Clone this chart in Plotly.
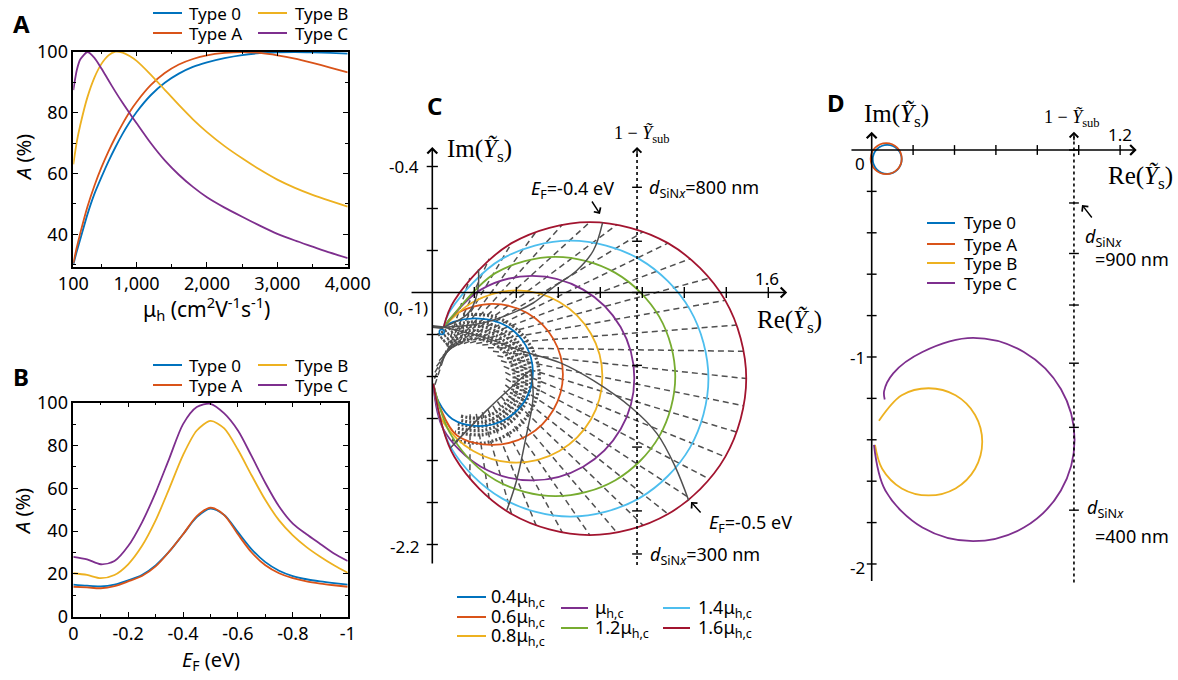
import plotly.graph_objects as go

W, H = 1178, 680

# ---------------- Panel A data ----------------
A_MU = [100, 150, 200, 300, 400, 500, 600, 700, 800, 900, 1000, 1200, 1400, 1600, 1800, 2000,
        2250, 2500, 2750, 3000, 3250, 3500, 3750, 4000]
A_TYPE0 = [30, 34.5, 38.5, 46.5, 53.3, 58.8, 64, 68.7, 73, 76.8, 80.2, 85.7, 89.8, 92.8, 95, 96.5,
           97.9, 98.9, 99.5, 99.8, 99.9, 99.8, 99.6, 99.4]
A_TYPEA = [30.5, 35.8, 40.5, 49, 56, 62, 67.3, 72, 76.3, 80.2, 83.5, 89, 93, 95.8, 97.6, 98.8,
           99.6, 99.9, 99.6, 98.8, 97.7, 96.3, 94.8, 93.2]
A_TYPEB = [63, 70.5, 76, 85, 91.5, 96, 98.8, 100, 99.7, 98.6, 97, 92.5, 87.5, 82.5, 77.8, 73.6,
           69, 65, 61.3, 58, 55.3, 53, 51, 49.1]
A_TYPEC = [87.4, 94, 97.5, 99.9, 98, 94.5, 90.6, 86.8, 83.2, 79.8, 76.5, 70, 64.3, 59.6, 55.6, 52.2,
           48.8, 45.8, 42.9, 40.2, 38, 36, 34, 32.2]
A_XTICKS = [100, 1000, 2000, 3000, 4000]
A_XTICKTEXT = ["100", "1,000", "2,000", "3,000", "4,000"]

# ---------------- Panel B data ----------------
B_EF = [0, -0.05, -0.1, -0.15, -0.2, -0.25, -0.3, -0.35, -0.4, -0.45, -0.5,
        -0.55, -0.6, -0.65, -0.7, -0.75, -0.8, -0.85, -0.9, -0.95, -1.0]
B_TYPE0 = [15, 14.5, 14.2, 15, 17, 19.5, 24, 30.5, 38.5, 46.5, 50.5,
           47.5, 39.5, 31.5, 25.5, 21.5, 19, 17.5, 16.5, 15.7, 15]
B_TYPEA = [14, 13.7, 13.3, 14.3, 16.5, 19, 23.5, 30.5, 38.5, 47, 51,
           47.5, 38.5, 30, 24, 20.3, 18, 16.5, 15.5, 14.7, 14]
B_TYPEB = [20.3, 19.5, 18, 19.5, 24.5, 33, 45, 60, 75.5, 87, 91.5,
           88, 78, 66, 54.5, 45, 38, 32.5, 28, 24, 20.5]
B_TYPEC = [28, 26.8, 24.5, 26, 33, 44, 58, 74, 90, 98, 99.5,
           95, 87, 75, 62.5, 51.5, 43.5, 38.5, 34, 29.5, 26]
B_XTICKS = [0, -0.2, -0.4, -0.6, -0.8, -1.0]
B_XTICKTEXT = ["0", "-0.2", "-0.4", "-0.6", "-0.8", "-1"]

# ---------------- Panel C data (Re, Im of admittance) ----------------
C_04_RE = [0.054, 0.10, 0.223, 0.351, 0.445, 0.479, 0.445, 0.351, 0.223, 0.095, 0.03, 0.005]
C_04_IM = [-1.165, -1.14, -1.124, -1.158, -1.252, -1.38, -1.508, -1.602, -1.636, -1.602, -1.52, -1.435]
C_06_RE = [0.054, 0.118, 0.286, 0.454, 0.577, 0.622, 0.577, 0.454, 0.286, 0.118, 0.037, 0.005]
C_06_IM = [-1.165, -1.099, -1.054, -1.099, -1.222, -1.39, -1.558, -1.681, -1.726, -1.681, -1.548, -1.435]
C_08_RE = [0.054, 0.195, 0.40, 0.605, 0.755, 0.81, 0.755, 0.605, 0.40, 0.195, 0.045, 0.005]
C_08_IM = [-1.165, -1.045, -0.99, -1.045, -1.195, -1.40, -1.605, -1.755, -1.81, -1.755, -1.605, -1.435]
C_10_RE = [0.054, 0.2315, 0.475, 0.7185, 0.8967, 0.962, 0.8967, 0.7185, 0.475, 0.2315, 0.0533, 0.005]
C_10_IM = [-1.165, -0.9863, -0.921, -0.9863, -1.1645, -1.408, -1.6515, -1.8297, -1.895, -1.8297, -1.6515, -1.435]
C_12_RE = [0.054, 0.0934, 0.302, 0.587, 0.872, 1.0806, 1.157, 1.0806, 0.872, 0.587, 0.302, 0.0934, 0.005]
C_12_IM = [-1.165, -1.115, -0.9064, -0.83, -0.9064, -1.115, -1.40, -1.685, -1.8936, -1.97, -1.8936, -1.685, -1.435]
C_14_RE = [0.054, 0.089, 0.3295, 0.658, 0.9865, 1.227, 1.315, 1.227, 0.9865, 0.658, 0.3295, 0.089, 0.005]
C_14_IM = [-1.165, -1.0815, -0.841, -0.753, -0.841, -1.0815, -1.41, -1.7385, -1.979, -2.067, -1.979, -1.7385, -1.435]
C_16_RE = [0.054, 0.105, 0.3775, 0.75, 1.1225, 1.395, 1.495, 1.395, 1.1225, 0.75, 0.3775, 0.105, 0.005]
C_16_IM = [-1.165, -1.0375, -0.765, -0.665, -0.765, -1.0375, -1.41, -1.7825, -2.055, -2.155, -2.055, -1.7825, -1.435]
C_LABELS = ["0.4μ<sub>h,c</sub>", "0.6μ<sub>h,c</sub>", "0.8μ<sub>h,c</sub>", "μ<sub>h,c</sub>",
            "1.2μ<sub>h,c</sub>", "1.4μ<sub>h,c</sub>", "1.6μ<sub>h,c</sub>"]

# constant-thickness (dashed) curves: inner and outer ends
DASH_IN_RE = [0.0125, 0.01, 0.0126, 0.02, 0.033, 0.05, 0.071, 0.095, 0.122, 0.1504, 0.18, 0.2096, 0.238,
              0.265, 0.289, 0.31, 0.327, 0.34, 0.3475, 0.35, 0.3475, 0.34, 0.327, 0.31, 0.289, 0.265,
              0.238, 0.2096, 0.18]
DASH_IN_IM = [-1.4396, -1.41, -1.3804, -1.352, -1.325, -1.301, -1.28, -1.263, -1.25, -1.2425, -1.24,
              -1.2425, -1.25, -1.263, -1.28, -1.301, -1.325, -1.352, -1.3804, -1.41, -1.4396, -1.468,
              -1.495, -1.519, -1.54, -1.557, -1.57, -1.5775, -1.58]
DASH_OUT_RE = [0.179, 0.271, 0.3775, 0.495, 0.62, 0.75, 0.88, 1.005, 1.1225, 1.229, 1.321, 1.395, 1.45,
               1.484, 1.495, 1.484, 1.45, 1.395, 1.321, 1.229, 1.1225, 1.005, 0.88, 0.75, 0.62, 0.495,
               0.3775, 0.271, 0.179]
DASH_OUT_IM = [-0.931, -0.839, -0.765, -0.71, -0.676, -0.665, -0.676, -0.71, -0.765, -0.839, -0.931,
               -1.0375, -1.155, -1.28, -1.41, -1.54, -1.665, -1.7825, -1.889, -1.981, -2.055, -2.11,
               -2.144, -2.155, -2.144, -2.11, -2.055, -1.981, -1.889]
# dense dashed bands around the low-mobility hole
BAND1_RE = [0.078, 0.167, 0.265, 0.3455, 0.387, 0.3786, 0.322, 0.233, 0.135]
BAND1_IM = [-1.2645, -1.223, -1.2314, -1.288, -1.377, -1.475, -1.5555, -1.597, -1.5886]
BAND2_RE = [0.065, 0.1635, 0.2718, 0.3609, 0.4069, 0.3974, 0.335, 0.2365, 0.1282]
BAND2_IM = [-1.2491, -1.2031, -1.2126, -1.275, -1.3735, -1.4818, -1.5709, -1.6169, -1.6074]
BAND3_RE = [0.052, 0.16, 0.2787, 0.376, 0.4266, 0.4162, 0.348, 0.24, 0.1213]
BAND3_IM = [-1.234, -1.1834, -1.1938, -1.262, -1.37, -1.4887, -1.586, -1.6366, -1.6262]
BAND4_RE = [0.0392, 0.1565, 0.2855, 0.3915, 0.4463, 0.435, 0.3608, 0.2435, 0.1145]
BAND4_IM = [-1.2185, -1.1637, -1.175, -1.2493, -1.3665, -1.4955, -1.6015, -1.6563, -1.645]
BAND5_RE = [0.0264, 0.153, 0.2923, 0.4068, 0.466, 0.4538, 0.3736, 0.247, 0.1077]
BAND5_IM = [-1.2032, -1.144, -1.1562, -1.2364, -1.363, -1.5023, -1.6168, -1.676, -1.6638]
BAND6_RE = [0.146, 0.306, 0.4375, 0.5054, 0.4914, 0.3993, 0.254, 0.094]
BAND6_IM = [-1.1046, -1.1186, -1.2107, -1.356, -1.516, -1.6475, -1.7154, -1.7014]
# constant-EF (solid grey) curves
EF04_RE = [0.054, 0.228, 0.40, 0.48, 0.577, 0.688, 0.767, 0.811]
EF04_IM = [-1.165, -1.148, -1.09, -1.05, -0.975, -0.895, -0.80, -0.667]
EF05_RE = [0.054, 0.25, 0.418, 0.61, 0.768, 0.95, 1.07, 1.157, 1.221]
EF05_IM = [-1.165, -1.215, -1.276, -1.335, -1.42, -1.55, -1.672, -1.83, -1.99]
EFX1_RE = [0.086, 0.26, 0.40, 0.466]
EFX1_IM = [-1.74, -1.56, -1.43, -1.37]
EFX2_RE = [0.355, 0.40, 0.45, 0.48, 0.47]
EFX2_IM = [-2.036, -1.90, -1.67, -1.50, -1.37]
EFX3_RE = [0.22, 0.215, 0.17, 0.054]
EFX3_IM = [-0.89, -1.0, -1.10, -1.165]
STUB_RE = [0.0, 0.054]
STUB_IM = [-1.162, -1.168]
C_SUB_RE = 0.975
C_SUB_TICKS = [-0.499, -0.756, -1.0, -1.347, -1.736, -2.04, -2.245]
C_IM_TICKS = [-0.4, -0.6, -0.8, -1.2, -1.4, -1.6, -1.8, -2.0, -2.2]
C_RE_TICKS = [0.2, 0.4, 0.6, 0.8, 1.0, 1.2, 1.4, 1.6]

# ---------------- Panel D data ----------------
D_T0_RE = [0.145, 0.1245, 0.075, 0.0255, 0.005, 0.0255, 0.075, 0.1245, 0.145]
D_T0_IM = [-0.045, 0.0045, 0.025, 0.0045, -0.045, -0.0945, -0.115, -0.0945, -0.045]
D_TA_RE = [0.145, 0.123, 0.07, 0.017, -0.005, 0.017, 0.07, 0.123, 0.145]
D_TA_IM = [-0.042, 0.011, 0.033, 0.011, -0.042, -0.095, -0.117, -0.095, -0.042]
D_TB_RE = [0.035, 0.145, 0.275, 0.405, 0.4995, 0.534, 0.4995, 0.405, 0.275, 0.145, 0.0505, 0.016]
D_TB_IM = [-1.308, -1.185, -1.151, -1.185, -1.28, -1.41, -1.54, -1.635, -1.669, -1.635, -1.54, -1.425]
D_TC_RE = [0.063, 0.06, 0.104, 0.245, 0.49, 0.735, 0.914, 0.98, 0.914, 0.735, 0.49, 0.245, 0.066, 0.011]
D_TC_IM = [-1.205, -1.165, -1.079, -0.976, -0.908, -0.976, -1.155, -1.40, -1.645, -1.824, -1.89, -1.824, -1.645, -1.425]
D_SUB_RE = 0.977
D_SUB_TICKS = [0.0, -0.256, -0.50, -0.749, -1.03, -1.34, -1.74]
D_IM_TICKS = [-0.2, -0.4, -0.6, -0.8, -1.0, -1.2, -1.4, -1.6, -1.8, -2.0]
D_RE_TICKS = [0.2, 0.4, 0.6, 0.8, 1.0, 1.2]

TYPE_NAMES = ["Type 0", "Type A", "Type B", "Type C"]
BLUE, ORANGE, YELLOW, PURPLE = "#0072BD", "#D95319", "#EDB120", "#7E2F8E"
GREEN, CYAN, RED = "#77AC30", "#4DBEEE", "#A2142F"
GREY = "#505050"
SANS = "Noto Sans"
SERIF = "Liberation Serif, DejaVu Serif, serif"


def PX(x):
    return x / W


def PY(y):
    return 1 - y / H


fig = go.Figure()


def line(x, y, color, xa, ya, width=1.8, dash=None, spline=True, smoothing=1.0):
    fig.add_trace(go.Scatter(
        x=x, y=y, mode="lines",
        line=dict(color=color, width=width, dash=dash,
                  shape="spline" if spline else "linear", smoothing=smoothing),
        xaxis=xa, yaxis=ya, showlegend=False, hoverinfo="skip"))


# Panel A
for ys, col in zip([A_TYPE0, A_TYPEA, A_TYPEB, A_TYPEC], [BLUE, ORANGE, YELLOW, PURPLE]):
    line(A_MU, ys, col, "x", "y", width=1.8, smoothing=0.6)
# Panel B
for ys, col in zip([B_TYPE0, B_TYPEA, B_TYPEB, B_TYPEC], [BLUE, ORANGE, YELLOW, PURPLE]):
    line(B_EF, ys, col, "x2", "y2", width=1.8, smoothing=0.8)

# Panel C: dashed constant-thickness lines
dx, dy = [], []
for a, b, c, d in zip(DASH_IN_RE, DASH_IN_IM, DASH_OUT_RE, DASH_OUT_IM):
    dx += [a, c, None]
    dy += [b, d, None]
line(dx, dy, GREY, "x3", "y3", width=1.5, dash="6px,4px", spline=False)
for bx, by in [(BAND1_RE, BAND1_IM), (BAND2_RE, BAND2_IM), (BAND3_RE, BAND3_IM),
               (BAND4_RE, BAND4_IM), (BAND5_RE, BAND5_IM), (BAND6_RE, BAND6_IM)]:
    line(bx, by, GREY, "x3", "y3", width=3.2, dash="2px,2px")

C_SERIES = [(C_04_RE, C_04_IM, BLUE), (C_06_RE, C_06_IM, ORANGE), (C_08_RE, C_08_IM, YELLOW),
            (C_10_RE, C_10_IM, PURPLE), (C_12_RE, C_12_IM, GREEN), (C_14_RE, C_14_IM, CYAN),
            (C_16_RE, C_16_IM, RED)]
for cx, cy, col in C_SERIES:
    line(cx, cy, col, "x3", "y3", width=1.8)

for gx, gy in [(EF04_RE, EF04_IM), (EF05_RE, EF05_IM), (EFX1_RE, EFX1_IM), (EFX2_RE, EFX2_IM), (EFX3_RE, EFX3_IM)]:
    line(gx, gy, GREY, "x3", "y3", width=1.5)
line(STUB_RE, STUB_IM, GREY, "x3", "y3", width=3, spline=False)
fig.add_trace(go.Scatter(x=[0.045], y=[-1.188], mode="markers",
                         marker=dict(symbol="circle-open", size=5, color=BLUE, line=dict(width=1.5)),
                         xaxis="x3", yaxis="y3", showlegend=False, hoverinfo="skip"))

# dotted substrate line C
line([C_SUB_RE, C_SUB_RE], [-2.298, -0.33], "black", "x3", "y3", width=1.6, dash="dot", spline=False)


def ticks(x, y, sym, xa, ya, size=8):
    fig.add_trace(go.Scatter(x=x, y=y, mode="markers",
                             marker=dict(symbol=sym, size=size, color="black",
                                         line=dict(width=1.4, color="black")),
                             xaxis=xa, yaxis=ya, showlegend=False, hoverinfo="skip"))


ticks([C_SUB_RE] * len(C_SUB_TICKS), C_SUB_TICKS, "line-ew", "x3", "y3", 7)
ticks([0] * len(C_IM_TICKS), C_IM_TICKS, "line-ew", "x3", "y3", 8)
ticks(C_RE_TICKS, [-1.0] * len(C_RE_TICKS), "line-ns", "x3", "y3", 8)

# Panel D
line(D_T0_RE, D_T0_IM, BLUE, "x4", "y4", width=1.8)
line(D_TA_RE, D_TA_IM, ORANGE, "x4", "y4", width=1.8)
line(D_TB_RE, D_TB_IM, YELLOW, "x4", "y4", width=1.8)
line(D_TC_RE, D_TC_IM, PURPLE, "x4", "y4", width=1.8)
line([D_SUB_RE, D_SUB_RE], [-2.09, 0.065], "black", "x4", "y4", width=1.6, dash="dot", spline=False)
ticks([D_SUB_RE] * len(D_SUB_TICKS), D_SUB_TICKS, "line-ew", "x4", "y4", 7)
ticks([0] * len(D_IM_TICKS), D_IM_TICKS, "line-ew", "x4", "y4", 7)
ticks(D_RE_TICKS, [0] * len(D_RE_TICKS), "line-ns", "x4", "y4", 7)

ann = []
shapes = []


def text(x, y, t, size=17, xanchor="center", family=SANS, yanchor="middle", angle=0):
    ann.append(dict(x=PX(x), y=PY(y), xref="paper", yref="paper", text=t, showarrow=False,
                    xanchor=xanchor, yanchor=yanchor, textangle=angle,
                    font=dict(family=family, size=size, color="black")))


def axis_arrow(xa, ya, x0, y0, x1, y1, head=4, width=1.6, size=1.2):
    ann.append(dict(x=x1, y=y1, ax=x0, ay=y0, xref=xa, yref=ya, axref=xa, ayref=ya, text="",
                    showarrow=True, arrowhead=head, arrowsize=size, arrowwidth=width,
                    arrowcolor="black"))


def ptr(x, y, ox, oy):
    ann.append(dict(x=PX(x), y=PY(y), xref="paper", yref="paper", ax=ox, ay=oy, text="",
                    showarrow=True, arrowhead=4, arrowsize=1.1, arrowwidth=1.4, arrowcolor="black"))


def legend_item(x0, x1, y, col, label, tx, size=17):
    shapes.append(dict(type="line", xref="paper", yref="paper", x0=PX(x0), x1=PX(x1),
                       y0=PY(y), y1=PY(y), line=dict(color=col, width=2)))
    text(tx, y, label, size, "left")


# panel letters
text(11, 24, "<b>A</b>", 24, "left")
text(11, 376, "<b>B</b>", 24, "left")
text(425, 105, "<b>C</b>", 24, "left")
text(825, 102, "<b>D</b>", 24, "left")

# A / B legends and titles
for yoff in (13, 365):
    legend_item(153, 182, yoff, BLUE, TYPE_NAMES[0], 187)
    legend_item(153, 182, yoff + 20, ORANGE, TYPE_NAMES[1], 187)
    legend_item(258, 287, yoff, YELLOW, TYPE_NAMES[2], 293)
    legend_item(258, 287, yoff + 20, PURPLE, TYPE_NAMES[3], 293)
text(23, 158, "<i>A</i> (%)", 20, angle=-90)
text(22, 512, "<i>A</i> (%)", 20, angle=-90)
text(206, 309, "μ<sub>h</sub> (cm<sup>2</sup>V<sup>-1</sup>s<sup>-1</sup>)", 21)
text(211, 660, "<i>E</i><sub>F</sub> (eV)", 20)

# Panel C axes and labels
axis_arrow("x3", "y3", 0, -2.298, 0, -0.307)
axis_arrow("x3", "y3", -0.106, -1.0, 1.69, -1.0)
axis_arrow("x3", "y3", C_SUB_RE, -0.36, C_SUB_RE, -0.307, head=4, width=1.4, size=1.2)
text(445, 150, "Im(<i>Ỹ</i><sub>s</sub>)", 25, "left", SERIF)
text(421, 166, "-0.4", 17, "right")
text(421, 546, "-2.2", 17, "right")
text(642, 135, "1 − <i>Ỹ</i><sub>sub</sub>", 18, "center", SERIF)
text(572, 189, "<i>E</i><sub>F</sub>=-0.4 eV", 18)
ptr(600, 214, -9, -14)
text(647, 188, "<i>d</i><sub>SiN<i>x</i></sub>=800 nm", 18, "left")
text(767, 278, "1.6", 17)
text(430, 308, "(0, -1)", 17, "right")
text(755, 321, "Re(<i>Ỹ</i><sub>s</sub>)", 25, "left", SERIF)
text(707, 523, "<i>E</i><sub>F</sub>=-0.5 eV", 18, "left")
ptr(691, 502, 11, 12)
text(648, 555, "<i>d</i><sub>SiN<i>x</i></sub>=300 nm", 18, "left")

# C legend
C_COLORS = [BLUE, ORANGE, YELLOW, PURPLE, GREEN, CYAN, RED]
C_LEG_POS = [(457, 486, 597, 489), (457, 486, 617, 489), (457, 486, 636, 489),
             (561, 588, 608, 593), (561, 588, 628, 593), (663, 690, 608, 696), (663, 690, 628, 696)]
for (x0, x1, yy, tx), col, lab in zip(C_LEG_POS, C_COLORS, C_LABELS):
    legend_item(x0, x1, yy, col, lab, tx, 18)

# Panel D axes and labels
axis_arrow("x4", "y4", 0, -2.09, 0, 0.088)
axis_arrow("x4", "y4", -0.105, 0, 1.28, 0)
axis_arrow("x4", "y4", D_SUB_RE, 0.04, D_SUB_RE, 0.088, head=4, width=1.4, size=1.2)
text(862, 115, "Im(<i>Ỹ</i><sub>s</sub>)", 25, "left", SERIF)
text(1072, 118, "1 − <i>Ỹ</i><sub>sub</sub>", 18, "center", SERIF)
text(1120, 135, "1.2", 17)
text(860, 163, "0", 17)
text(1106, 178, "Re(<i>Ỹ</i><sub>s</sub>)", 25, "left", SERIF)
text(867, 357, "-1", 17, "right")
text(867, 567, "-2", 17, "right")
text(1083, 237, "<i>d</i><sub>SiN<i>x</i></sub>", 18, "left")
text(1093, 259, "=900 nm", 18, "left")
ptr(1082, 205, 11, 14)
text(1085, 508, "<i>d</i><sub>SiN<i>x</i></sub>", 18, "left")
text(1093, 536, "=400 nm", 18, "left")
for i, (col, lab) in enumerate(zip([BLUE, ORANGE, YELLOW, PURPLE], TYPE_NAMES)):
    legend_item(927, 955, [223, 244, 263, 283][i], col, lab, 962)

box = dict(showline=True, linecolor="black", linewidth=1.5, mirror="ticks", ticks="inside",
           ticklen=5, tickwidth=1.3, tickcolor="black", showgrid=False, zeroline=False,
           automargin=False, tickfont=dict(family=SANS, size=18, color="black"))
hidden = dict(visible=False, showgrid=False, zeroline=False, automargin=False)

fig.update_layout(
    width=W, height=H, autosize=False,
    margin=dict(l=0, r=0, t=0, b=0, pad=0, autoexpand=False),
    paper_bgcolor="white", plot_bgcolor="white", showlegend=False,
    font=dict(family=SANS, size=17, color="black"),
    xaxis=dict(domain=[PX(73.3), PX(347.7)], anchor="y", range=[100, 4000],
               tickvals=A_XTICKS, ticktext=A_XTICKTEXT,
               minor=dict(ticks="inside", ticklen=3, tickvals=[500, 1500, 2500, 3500], tickcolor="black"),
               **box),
    yaxis=dict(domain=[PY(266.7), PY(51.7)], anchor="x", range=[29.4, 100],
               tickvals=[40, 60, 80, 100],
               minor=dict(ticks="inside", ticklen=3, dtick=10, tickcolor="black"), **box),
    xaxis2=dict(domain=[PX(73.3), PX(347.7)], anchor="y2", range=[0, -1],
                tickvals=B_XTICKS, ticktext=B_XTICKTEXT,
                minor=dict(ticks="inside", ticklen=3, dtick=0.1, tickcolor="black"), **box),
    yaxis2=dict(domain=[PY(616.7), PY(402.7)], anchor="x2", range=[0, 100],
                tickvals=[0, 20, 40, 60, 80, 100],
                minor=dict(ticks="inside", ticklen=3, dtick=10, tickcolor="black"), **box),
    xaxis3=dict(domain=[PX(400), PX(800)], anchor="y3", range=[-0.1538, 1.751], **hidden),
    yaxis3=dict(domain=[PY(580), PY(130)], anchor="x3", range=[-2.369, -0.2262], **hidden),
    xaxis4=dict(domain=[PX(830), PX(1170)], anchor="y4", range=[-0.2014, 1.441], **hidden),
    yaxis4=dict(domain=[PY(600), PY(100)], anchor="x4", range=[-2.174, 0.2415], **hidden),
    annotations=ann, shapes=shapes,
)

# remove the browser's default body margin so the 1178x680 figure fills the window exactly
fig.write_html("out.html", config={"responsive": False, "displayModeBar": False},
               post_script="document.body.style.margin='0px';document.body.style.overflow='hidden';")
